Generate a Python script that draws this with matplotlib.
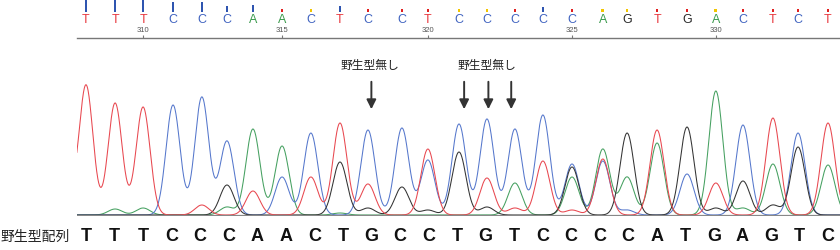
import numpy as np
import matplotlib
matplotlib.use("Agg")
import matplotlib.pyplot as plt

plt.rcParams['font.family'] = ['Liberation Sans', 'Noto Sans CJK JP', 'DejaVu Sans']

# base calls (top), numbered from 308
first_base = 308
called = list("TTTCCCAACTCCTCCCCCAGTGACTCT")
call_pos = [0.0, 1.02, 2.0, 3.05, 4.06, 4.94, 5.85, 6.87, 7.88, 8.9, 9.88, 11.07, 11.98, 13.07,
            14.05, 15.03, 16.01, 17.03, 18.11, 18.96, 20.01, 21.06, 22.07, 23.02, 24.07, 24.95, 26.0]
qual = [12, 12, 12, 10, 10, 6, 7, 3, 3, 6, 3, 3, 3, 3, 3, 3, 5, 3, 3, 3, 3, 3, 3, 3, 3, 3, 3]
qual_level = ['hi', 'hi', 'hi', 'hi', 'hi', 'hi', 'hi', 'lo', 'mid', 'hi', 'lo', 'lo', 'lo', 'mid',
              'mid', 'lo', 'hi', 'lo', 'mid', 'mid', 'lo', 'lo', 'mid', 'lo', 'lo', 'lo', 'lo']
ticks = [310, 315, 320, 325, 330]

# wild type sequence (bottom)
wild = list("TTTCCCAACTGCCTGTCCCCATGAGTC")

# peak heights per channel at each call position
peak_T = [130, 112, 108, 0, 10, 0, 24, 0, 38, 92, 31, 0, 66, 0, 37, 7, 54, 5, 56, 0, 85, 0, 32, 0, 97, 0, 92]
peak_C = [0, 0, 0, 110, 118, 74, 0, 38, 82, 0, 85, 87, 55, 91, 96, 86, 100, 51, 54, 5, 0, 41, 0, 90, 0, 82, 0]
peak_A = [0, 6, 7, 0, 0, 8, 86, 69, 0, 2, 0, 0, 0, 0, 0, 32, 0, 38, 66, 38, 72, 0, 124, 7, 51, 0, 50]
peak_G = [0, 0, 0, 0, 0, 30, 0, 0, 0, 53, 7, 28, 5, 63, 8, 0, 0, 48, 0, 82, 0, 88, 7, 34, 10, 68, 0]
# partial peak left of the window
edge_T = (-0.8, 50)

arrow_pos = [10.0, 13.25, 14.1, 14.9]
label_pos = [9.95, 14.05]
label_text = "野生型無し"

colors = {'T': '#e8383d', 'C': '#4063c0', 'A': '#3a9a4c', 'G': '#2a2a2a'}
trace_colors = {'T': '#e8474f', 'C': '#5577cc', 'A': '#45a060', 'G': '#333333'}
qual_colors = {'hi': '#2f55b0', 'mid': '#f2c500', 'lo': '#e02020'}

W, H = 840, 251
fig = plt.figure(figsize=(W / 100, H / 100), dpi=100)
xl = (-0.315, 26.42)

# trace panel
ax = fig.add_axes([77 / W, 1 - 217 / H, 1 - 77 / W, (217 - 50) / H])
ax.set_xlim(*xl)
ax.set_ylim(0, 167)
ax.axis('off')

x = np.linspace(-1.5, 27.5, 3000)
sig = 0.245
for ch, hts in [('A', peak_A), ('C', peak_C), ('G', peak_G), ('T', peak_T)]:
    y = np.zeros_like(x)
    for p, h in zip(call_pos, hts):
        y += h * np.exp(-(x - p) ** 2 / (2 * sig ** 2))
    if ch == 'T':
        y += edge_T[1] * np.exp(-(x - edge_T[0]) ** 2 / (2 * sig ** 2))
    y += 1.0
    ax.plot(x, y, color=trace_colors[ch], lw=0.75)
ax.axhline(0.5, color='#888888', lw=1.6)

for p in arrow_pos:
    ax.annotate('', xy=(p, 104), xytext=(p, 137),
                arrowprops=dict(arrowstyle='-|>', color='#333333', lw=1.4, mutation_scale=14))
for p in label_pos:
    ax.text(p, 151, label_text, ha='center', va='center', fontsize=8.5, color='#222222',
            family=['Noto Sans CJK JP', 'DejaVu Sans'])

for i, b in enumerate(wild):
    ax.text(i, -20, b, ha='center', va='center', fontsize=13, fontweight='bold',
            color='#111111', clip_on=False)
fig.text(0.0, 1 - 237 / H, "野生型配列", ha='left', va='center', fontsize=10, color='#222222',
         family=['Noto Sans CJK JP', 'DejaVu Sans'])

# base call panel
axt = fig.add_axes([77 / W, 1 - 39.3 / H, 1 - 77 / W, 39.3 / H])
axt.set_xlim(*xl)
axt.set_ylim(0, 39.3)
for s in ['top', 'left', 'right']:
    axt.spines[s].set_visible(False)
axt.spines['bottom'].set_color('#777777')
axt.spines['bottom'].set_linewidth(1.0)
axt.set_yticks([])
tick_x = [call_pos[t - first_base] for t in ticks]
axt.set_xticks(tick_x)
axt.set_xticklabels([])
axt.tick_params(axis='x', direction='in', length=2.5, color='#777777', width=0.8)
for tx, t in zip(tick_x, ticks):
    axt.text(tx, 8.3, str(t), ha='center', va='center', fontsize=5.5, color='#555555')

axt.bar(call_pos, qual, bottom=26.0, width=0.095,
        color=[qual_colors[q] for q in qual_level])
for p, b in zip(call_pos, called):
    axt.text(p, 19.0, b, ha='center', va='center', fontsize=9, color=colors[b])

fig.savefig('out.png', dpi=100)
